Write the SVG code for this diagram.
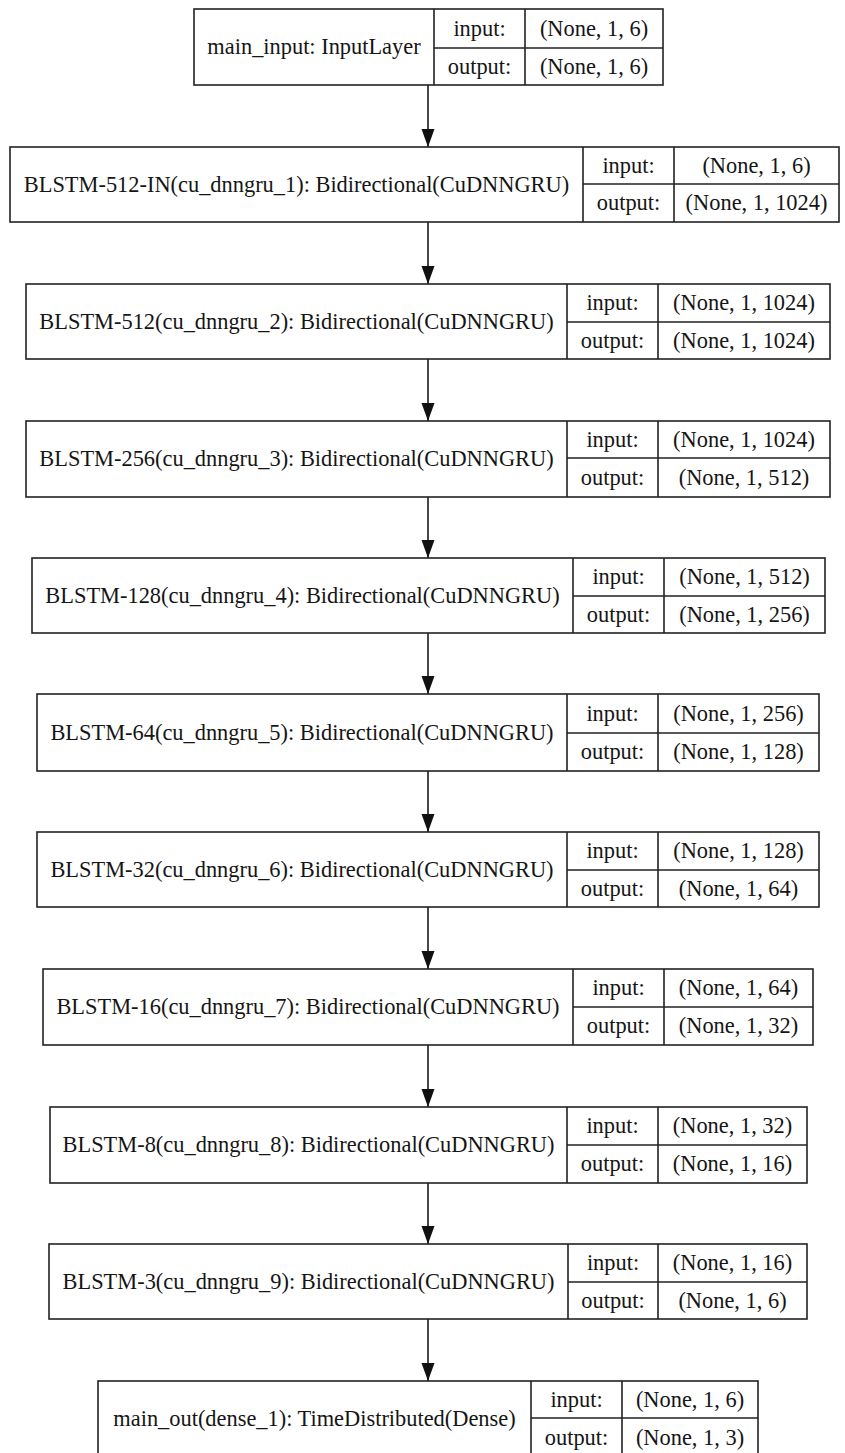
<svg xmlns="http://www.w3.org/2000/svg" width="845" height="1453" viewBox="0 0 845 1453">
<defs>
<style>
.box{fill:#fff;stroke:#222;stroke-width:1.6}
.ln{stroke:#222;stroke-width:1.6;fill:none}
text{font-family:"Liberation Serif","Times New Roman",serif;font-size:22.4px;fill:#151515;text-anchor:middle}
.edge{stroke:#1a1a1a;stroke-width:1.6;fill:none;marker-end:url(#ah)}
</style>
<marker id="ah" markerUnits="userSpaceOnUse" markerWidth="19" markerHeight="14" refX="18" refY="6.5" orient="auto">
<path d="M0,0 L18,6.5 L0,13 z" fill="#111"/>
</marker>
</defs>
<rect width="845" height="1453" fill="#fff"/>
<g id="connectors">
<line class="edge" x1="428" y1="85" x2="428" y2="147"/>
<line class="edge" x1="428" y1="222" x2="428" y2="284"/>
<line class="edge" x1="428" y1="359" x2="428" y2="421"/>
<line class="edge" x1="428" y1="497" x2="428" y2="558"/>
<line class="edge" x1="428" y1="633" x2="428" y2="694"/>
<line class="edge" x1="428" y1="771" x2="428" y2="832"/>
<line class="edge" x1="428" y1="907" x2="428" y2="969"/>
<line class="edge" x1="428" y1="1045" x2="428" y2="1107"/>
<line class="edge" x1="428" y1="1183" x2="428" y2="1244"/>
<line class="edge" x1="428" y1="1319" x2="428" y2="1381"/>
</g>
<g id="n1">
<rect class="box" x="194" y="9" width="469" height="76"/>
<path class="ln" d="M434,9V85M525,9V85M434,48H663"/>
<text x="314" y="54">main_input: InputLayer</text>
<text x="479.5" y="35.5">input:</text>
<text x="479.5" y="73.5">output:</text>
<text x="594" y="35.5">(None, 1, 6)</text>
<text x="594" y="73.5">(None, 1, 6)</text>
</g>
<g id="n2">
<rect class="box" x="10" y="147" width="829" height="75"/>
<path class="ln" d="M583,147V222M674,147V222M583,184H839"/>
<text x="296.5" y="191.5">BLSTM-512-IN(cu_dnngru_1): Bidirectional(CuDNNGRU)</text>
<text x="628.5" y="172.5">input:</text>
<text x="628.5" y="210">output:</text>
<text x="756.5" y="172.5">(None, 1, 6)</text>
<text x="756.5" y="210">(None, 1, 1024)</text>
</g>
<g id="n3">
<rect class="box" x="26" y="284" width="804" height="75"/>
<path class="ln" d="M567,284V359M658,284V359M567,322H830"/>
<text x="296.5" y="328.5">BLSTM-512(cu_dnngru_2): Bidirectional(CuDNNGRU)</text>
<text x="612.5" y="310">input:</text>
<text x="612.5" y="347.5">output:</text>
<text x="744" y="310">(None, 1, 1024)</text>
<text x="744" y="347.5">(None, 1, 1024)</text>
</g>
<g id="n4">
<rect class="box" x="26" y="421" width="804" height="76"/>
<path class="ln" d="M567,421V497M658,421V497M567,458H830"/>
<text x="296.5" y="466">BLSTM-256(cu_dnngru_3): Bidirectional(CuDNNGRU)</text>
<text x="612.5" y="446.5">input:</text>
<text x="612.5" y="484.5">output:</text>
<text x="744" y="446.5">(None, 1, 1024)</text>
<text x="744" y="484.5">(None, 1, 512)</text>
</g>
<g id="n5">
<rect class="box" x="32" y="558" width="793" height="75"/>
<path class="ln" d="M573,558V633M664,558V633M573,596H825"/>
<text x="302.5" y="602.5">BLSTM-128(cu_dnngru_4): Bidirectional(CuDNNGRU)</text>
<text x="618.5" y="584">input:</text>
<text x="618.5" y="621.5">output:</text>
<text x="744.5" y="584">(None, 1, 512)</text>
<text x="744.5" y="621.5">(None, 1, 256)</text>
</g>
<g id="n6">
<rect class="box" x="37" y="694" width="782" height="77"/>
<path class="ln" d="M567,694V771M658,694V771M567,733H819"/>
<text x="302" y="739.5">BLSTM-64(cu_dnngru_5): Bidirectional(CuDNNGRU)</text>
<text x="612.5" y="720.5">input:</text>
<text x="612.5" y="759">output:</text>
<text x="738.5" y="720.5">(None, 1, 256)</text>
<text x="738.5" y="759">(None, 1, 128)</text>
</g>
<g id="n7">
<rect class="box" x="37" y="832" width="782" height="75"/>
<path class="ln" d="M567,832V907M658,832V907M567,870H819"/>
<text x="302" y="876.5">BLSTM-32(cu_dnngru_6): Bidirectional(CuDNNGRU)</text>
<text x="612.5" y="858">input:</text>
<text x="612.5" y="895.5">output:</text>
<text x="738.5" y="858">(None, 1, 128)</text>
<text x="738.5" y="895.5">(None, 1, 64)</text>
</g>
<g id="n8">
<rect class="box" x="43" y="969" width="770" height="76"/>
<path class="ln" d="M573,969V1045M664,969V1045M573,1007H813"/>
<text x="308" y="1014">BLSTM-16(cu_dnngru_7): Bidirectional(CuDNNGRU)</text>
<text x="618.5" y="995">input:</text>
<text x="618.5" y="1033">output:</text>
<text x="738.5" y="995">(None, 1, 64)</text>
<text x="738.5" y="1033">(None, 1, 32)</text>
</g>
<g id="n9">
<rect class="box" x="50" y="1107" width="757" height="76"/>
<path class="ln" d="M567,1107V1183M658,1107V1183M567,1145H807"/>
<text x="308.5" y="1152">BLSTM-8(cu_dnngru_8): Bidirectional(CuDNNGRU)</text>
<text x="612.5" y="1133">input:</text>
<text x="612.5" y="1171">output:</text>
<text x="732.5" y="1133">(None, 1, 32)</text>
<text x="732.5" y="1171">(None, 1, 16)</text>
</g>
<g id="n10">
<rect class="box" x="49" y="1244" width="758" height="75"/>
<path class="ln" d="M568,1244V1319M658,1244V1319M568,1282H807"/>
<text x="308.5" y="1288.5">BLSTM-3(cu_dnngru_9): Bidirectional(CuDNNGRU)</text>
<text x="613" y="1270">input:</text>
<text x="613" y="1307.5">output:</text>
<text x="732.5" y="1270">(None, 1, 16)</text>
<text x="732.5" y="1307.5">(None, 1, 6)</text>
</g>
<g id="n11">
<rect class="box" x="98" y="1381" width="660" height="76"/>
<path class="ln" d="M531,1381V1457M622,1381V1457M531,1418H758"/>
<text x="314.5" y="1426">main_out(dense_1): TimeDistributed(Dense)</text>
<text x="576.5" y="1406.5">input:</text>
<text x="576.5" y="1444.5">output:</text>
<text x="690" y="1406.5">(None, 1, 6)</text>
<text x="690" y="1444.5">(None, 1, 3)</text>
</g>
</svg>
